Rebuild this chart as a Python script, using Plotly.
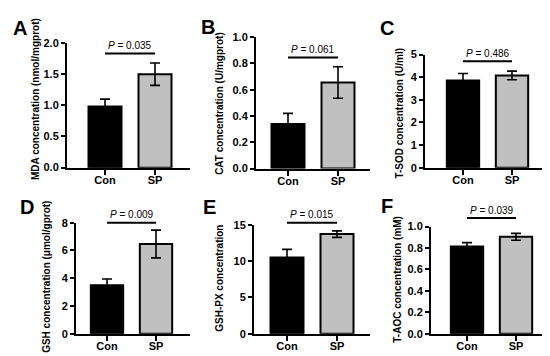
import plotly.graph_objects as go

W, H = 550, 356

categories = ["Con", "SP"]

# Data (means and SEM)
mda_mean = [0.98, 1.50]
mda_err = [0.12, 0.18]
cat_mean = [0.34, 0.655]
cat_err = [0.08, 0.12]
tsod_mean = [3.85, 4.08]
tsod_err = [0.31, 0.19]
gsh_mean = [3.50, 6.47]
gsh_err = [0.45, 1.00]
gshpx_mean = [10.5, 13.7]
gshpx_err = [1.1, 0.45]
taoc_mean = [0.815, 0.905]
taoc_err = [0.035, 0.032]

p_values = ["0.035", "0.061", "0.486", "0.009", "0.015", "0.039"]
letters = ["A", "B", "C", "D", "E", "F"]
y_titles = [
    "MDA concentration (nmol/mgprot)",
    "CAT concentration (U/mgprot)",
    "T-SOD concentration (U/ml)",
    "GSH concentration (μmol/gprot)",
    "GSH-PX concentration",
    "T-AOC concentration (mM)",
]
y_max = [2.0, 1.0, 5, 8, 15, 1.0]
y_dtick = [0.5, 0.2, 1, 2, 5, 0.2]
y_fmt = [".1f", ".1f", "d", "d", "d", ".1f"]

means = [mda_mean, cat_mean, tsod_mean, gsh_mean, gshpx_mean, taoc_mean]
errs = [mda_err, cat_err, tsod_err, gsh_err, gshpx_err, taoc_err]

# Layout geometry in pixels
# (axis_x, x_end, y_top, y_bottom, con_center, sp_center)
geom = [
    (59, 182, 30, 159, 97, 147),
    (248, 362, 24, 160, 280, 330),
    (417, 540, 42, 159, 455, 504),
    (68, 182, 216, 331, 99, 148),
    (246, 362, 218, 331, 279, 329),
    (423, 543, 220, 331, 459, 508),
]
sig_line_px = [41, 45, 49, 216, 216, 211]
title_x_px = [27, 212, 392, 39, 212, 390]
title_y_px = [88, 93, 103, 272, 274, 275]
letter_pos = [(12, 14), (200, 13), (379, 14), (19, 200), (201, 200), (379, 199)]

FONT = "Liberation Sans, Arial, sans-serif"


def px_x(p):
    return p / W


def px_y(p):
    return 1 - p / H


fig = go.Figure()
shapes = []
annotations = []

for i in range(6):
    ax_x, x_end, y_top, y_bot, c_con, c_sp = geom[i]
    unit = c_sp - c_con
    r0 = (ax_x - c_con) / unit
    r1 = (x_end - c_con) / unit
    n = "" if i == 0 else str(i + 1)
    fig.add_trace(go.Bar(
        x=[0, 1], y=means[i],
        width=0.66,
        marker=dict(color=["black", "#c0c0c0"], line=dict(color="black", width=2)),
        error_y=dict(type="data", array=errs[i], color="black", thickness=1.6, width=5),
        xaxis="x" + n, yaxis="y" + n, showlegend=False, hoverinfo="skip",
    ))
    fig.update_layout(**{
        "xaxis" + n: dict(
            domain=[px_x(ax_x), px_x(x_end)], range=[r0, r1],
            anchor="y" + n, tickvals=[0, 1], ticktext=categories,
            showline=True, linecolor="black", linewidth=2,
            ticks="outside", ticklen=5, tickwidth=2, tickcolor="black",
            ticklabelstandoff=-4,
            showgrid=False, zeroline=False, fixedrange=True,
            tickfont=dict(family=FONT, size=11, color="black", weight="bold"),
        ),
        "yaxis" + n: dict(
            domain=[px_y(y_bot), px_y(y_top)], range=[0, y_max[i]],
            anchor="x" + n, dtick=y_dtick[i], tick0=0, tickformat=y_fmt[i],
            showline=True, linecolor="black", linewidth=2,
            ticks="outside", ticklen=4, tickwidth=1.5, tickcolor="black",
            showgrid=False, zeroline=False, fixedrange=True,
            tickfont=dict(family=FONT, size=11, color="black", weight="bold"),
        ),
    })
    xp0 = px_x(c_con)
    xp1 = px_x(c_sp)
    yl = px_y(sig_line_px[i])
    shapes.append(dict(type="line", xref="paper", yref="paper",
                       x0=xp0, x1=xp1, y0=yl, y1=yl,
                       line=dict(color="black", width=2)))
    annotations.append(dict(
        xref="paper", yref="paper", x=(xp0 + xp1) / 2, y=px_y(sig_line_px[i] - 8),
        text="<i>P</i> = " + p_values[i], showarrow=False,
        font=dict(family=FONT, size=10, color="black"),
        xanchor="center", yanchor="middle"))
    annotations.append(dict(
        xref="paper", yref="paper", x=px_x(title_x_px[i]), y=px_y(title_y_px[i]),
        text="<b>" + y_titles[i] + "</b>", showarrow=False, textangle=-90,
        font=dict(family=FONT, size=10, color="black"),
        xanchor="center", yanchor="middle"))
    lx, ly = letter_pos[i]
    annotations.append(dict(
        xref="paper", yref="paper", x=px_x(lx), y=px_y(ly),
        text="<b>" + letters[i] + "</b>", showarrow=False,
        font=dict(family=FONT, size=20, color="black"),
        xanchor="center", yanchor="middle"))

fig.update_layout(
    width=W, height=H,
    margin=dict(l=0, r=0, t=0, b=0),
    paper_bgcolor="white", plot_bgcolor="white",
    shapes=shapes, annotations=annotations,
    bargap=0.3,
)

fig.write_html("out.html", config={"displayModeBar": False})
